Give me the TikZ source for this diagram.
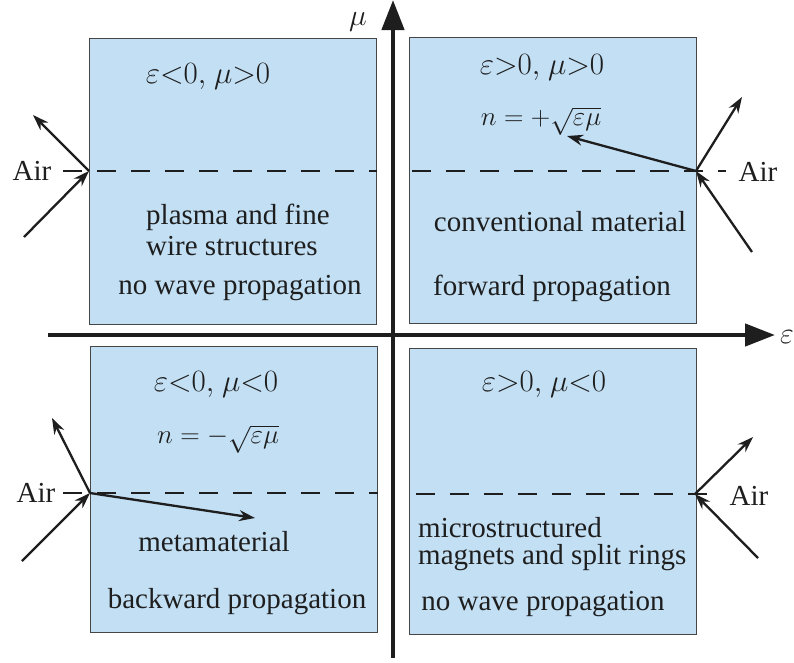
\RequirePackage{fix-cm}
\documentclass[tikz,border=0pt]{standalone}
\usepackage{fontspec}
\setmainfont{Liberation Serif}
\usepackage{amsmath}
\usetikzlibrary{arrows.meta, positioning, calc}
\definecolor{quadblue}{RGB}{194, 223, 244}
\definecolor{quadedge}{RGB}{70, 70, 70}
\definecolor{inkdark}{RGB}{30, 30, 30}

\begin{document}
\begin{tikzpicture}[
    x=1pt, y=-1pt,
    quad/.style={rectangle, draw=quadedge, line width=1.4pt, fill=quadblue, anchor=north west,
        minimum width=287pt, minimum height=286pt, inner sep=0pt},
    axis/.style={line width=4.5pt, draw=inkdark, -{Triangle[length=30pt, width=22pt]}},
    ray/.style={line width=2.3pt, draw=inkdark, -{Stealth[length=16pt, width=11pt]}},
    iface/.style={line width=2.2pt, draw=inkdark, dash pattern=on 19pt off 15pt},
    lbl/.style={font=\fontsize{29}{33}\selectfont, text=inkdark, inner sep=0pt},
    lblL/.style={lbl, anchor=west},
    sign/.style={lbl, font=\fontsize{31}{35}\selectfont},
    idx/.style={lbl, font=\fontsize{27}{31}\selectfont},
    axlbl/.style={lbl, font=\fontsize{30}{34}\selectfont}
]
    \useasboundingbox (0,0) rectangle (794,662);

    % the four quadrants
    \node[quad] (qTL) at (89,38) {};
    \node[quad] (qTR) at (409,37) {};
    \node[quad] (qBL) at (90,346) {};
    \node[quad] (qBR) at (409,348) {};

    % axes
    \coordinate (xs) at (48,335);
    \coordinate (xe) at (775,335);
    \coordinate (ys) at (393,658);
    \coordinate (ye) at (393,0);
    \draw[axis] (xs) -- (xe);
    \draw[axis] (ys) -- (ye);
    \node[axlbl] (epsl) at (787,337) {$\varepsilon$};
    \node[axlbl] (mul) at (358,22) {$\mu$};

    % air labels
    \node[lbl] (airTL) at (32,171) {Air};
    \node[lbl] (airTR) at (758,172) {Air};
    \node[lbl] (airBL) at (36,493) {Air};
    \node[lbl] (airBR) at (749,496) {Air};

    % interfaces
    \coordinate (hitTL) at (89,171);
    \coordinate (hitTR) at (696,171);
    \coordinate (hitBL) at (90,493);
    \coordinate (hitBR) at (695,494);
    \draw[iface] (63,171) -- (qTL.east |- hitTL);
    \draw[iface] (qTR.west |- hitTR) ++(3,0) -- (726,171);
    \draw[iface] (63,493) -- (qBL.east |- hitBL);
    \draw[iface] (qBR.west |- hitBR) ++(7,0) -- (712,494);

    % quadrant texts
    \node[sign] (sTL) at (208,77) {$\varepsilon{<}0{,}\ \mu{>}0$};
    \node[lblL] (plasma) at (146,217) {plasma and fine};
    \node[lblL, below=6pt of plasma.south west, anchor=north west] (wire) {wire structures};
    \node[lbl] (nwTL) at (240,288) {no wave propagation};

    \node[sign] (sTR) at (542,68) {$\varepsilon{>}0{,}\ \mu{>}0$};
    \node[idx] (nTR) at (541,121) {$n=+\sqrt{\varepsilon\mu}$};
    \node[lbl] (conv) at (560,222) {conventional material};
    \node[lbl] (fwd) at (552,288) {forward propagation};

    \node[sign] (sBL) at (216,385) {$\varepsilon{<}0{,}\ \mu{<}0$};
    \node[idx] (nBL) at (218,439) {$n=-\sqrt{\varepsilon\mu}$};
    \node[lbl] (meta) at (214,542) {metamaterial};
    \node[lbl] (bwd) at (237,602) {backward propagation};

    \node[sign] (sBR) at (544,385) {$\varepsilon{>}0{,}\ \mu{<}0$};
    \node[lblL] (micro) at (418,528) {microstructured};
    \node[lblL, below=6pt of micro.south west, anchor=north west] (magn) {magnets and split rings};
    \node[lbl] (nwBR) at (543,604) {no wave propagation};

    % rays
    \coordinate (inTL) at (24,237);
    \coordinate (reTL) at (33,115);
    \draw[ray] (inTL) -- (hitTL);
    \draw[ray] (hitTL) -- (reTL);

    \coordinate (inTR) at (752,252);
    \coordinate (reTR) at (742,97);
    \coordinate (trTR) at (567,136);
    \draw[ray] (inTR) -- (hitTR);
    \draw[ray] (hitTR) -- (reTR);
    \draw[ray] (hitTR) -- (trTR);

    \coordinate (inBL) at (22,561);
    \coordinate (reBL) at (52,418);
    \coordinate (trBL) at (255,518);
    \draw[ray] (inBL) -- (hitBL);
    \draw[ray] (hitBL) -- (reBL);
    \draw[ray] (hitBL) -- (trBL);

    \coordinate (inBR) at (758,558);
    \coordinate (reBR) at (753,437);
    \draw[ray] (inBR) -- (hitBR);
    \draw[ray] (hitBR) -- (reBR);

\end{tikzpicture}
\end{document}
